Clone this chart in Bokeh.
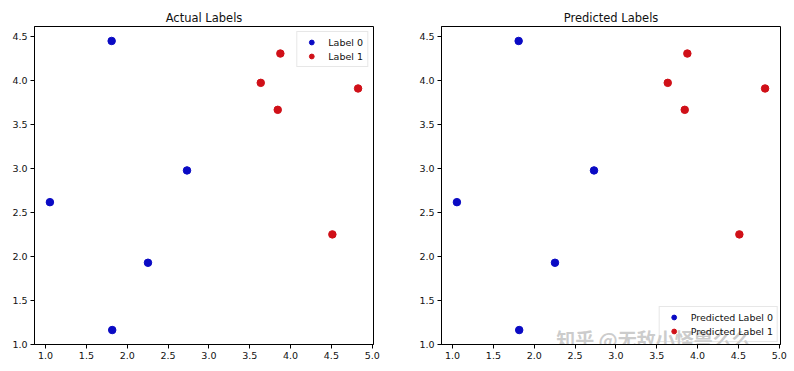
from bokeh.plotting import figure
from bokeh.layouts import row
from bokeh.models import Range1d, FixedTicker, NumeralTickFormatter, Label, Legend, LegendItem
from bokeh.embed import file_html
from bokeh.resources import INLINE

# Data
x0 = [1.809, 1.053, 2.732, 2.254, 1.816]
y0 = [4.450, 2.615, 2.976, 1.925, 1.159]
x1 = [3.875, 3.635, 3.843, 4.827, 4.512]
y1 = [4.307, 3.973, 3.666, 3.909, 2.248]

x_ticks = [1.0, 1.5, 2.0, 2.5, 3.0, 3.5, 4.0, 4.5, 5.0]
y_ticks = [1.0, 1.5, 2.0, 2.5, 3.0, 3.5, 4.0, 4.5]

titles = ["Actual Labels", "Predicted Labels"]
legend_labels = [["Label 0", "Label 1"], ["Predicted Label 0", "Predicted Label 1"]]
watermark = "知乎 @无敌小怪兽么么"

BLUE = "#0a0ac4"
RED = "#d01018"
FONT = "DejaVu Sans"

allx = x0 + x1
ally = y0 + y1
mx = 0.05 * (max(allx) - min(allx))
my = 0.05 * (max(ally) - min(ally))
xr = (min(allx) - mx, max(allx) + mx)
yr = (min(ally) - my, max(ally) + my)


def make(idx, width, left, right, legend_loc, legend_margin, legend_alpha):
    p = figure(width=width, height=371, output_backend="svg", toolbar_location=None,
               x_range=Range1d(*xr), y_range=Range1d(*yr),
               min_border_left=left, min_border_right=right,
               min_border_top=26, min_border_bottom=27)
    p.title.text = titles[idx]
    p.title.align = "center"
    p.title.text_font = FONT
    p.title.text_font_size = "11.5px"
    p.title.text_font_style = "normal"
    p.title.text_color = "#111111"
    p.title.standoff = 4
    p.grid.visible = False
    p.outline_line_color = "black"
    p.outline_line_width = 1
    p.outline_line_alpha = 1
    for ax in (p.xaxis[0], p.yaxis[0]):
        ax.major_label_text_font = FONT
        ax.major_label_text_font_size = "9.5px"
        ax.major_label_text_color = "#111111"
        ax.major_tick_out = 4
        ax.major_tick_in = 0
        ax.minor_tick_out = 0
        ax.minor_tick_in = 0
        ax.axis_line_color = "black"
        ax.major_tick_line_color = "black"
        ax.major_label_standoff = 3
        ax.formatter = NumeralTickFormatter(format="0.0")
    p.xaxis[0].ticker = FixedTicker(ticks=x_ticks)
    p.yaxis[0].ticker = FixedTicker(ticks=y_ticks)

    r0 = p.scatter(x0, y0, size=7.5, fill_color=BLUE, line_color=BLUE)
    r1 = p.scatter(x1, y1, size=7.5, fill_color=RED, line_color=RED)

    legend = Legend(items=[LegendItem(label=legend_labels[idx][0], renderers=[r0]),
                           LegendItem(label=legend_labels[idx][1], renderers=[r1])],
                    location=legend_loc)
    legend.label_text_font = FONT
    legend.label_text_font_size = "9.5px"
    legend.label_text_color = "#111111"
    legend.glyph_width = 20
    legend.glyph_height = 12
    legend.label_height = 12
    legend.label_standoff = 7
    legend.padding = 4
    legend.spacing = 2
    legend.margin = legend_margin
    legend.border_line_color = "#d0d0d0"
    legend.background_fill_alpha = legend_alpha
    p.add_layout(legend, "center")
    return p


p1 = make(0, 404, 34, 31, "top_right", 5, 0.8)
p2 = make(1, 390, 37, 14, "bottom_right", 2, 0.0)

wm = Label(x=2.269, y=1.062, text=watermark, text_font="Noto Sans CJK SC",
           text_font_size="19px", text_font_style="bold", text_color="#999999",
           text_alpha=0.5, text_baseline="middle", text_align="left", level="underlay")
p2.add_layout(wm)

layout = row(p1, p2)
open("out.html", "w").write(file_html(layout, INLINE))
